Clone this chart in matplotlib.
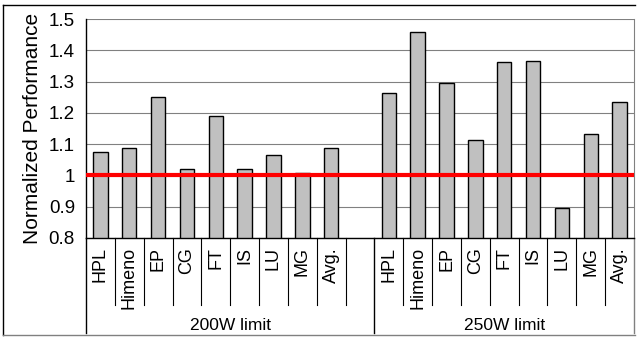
import numpy as np
import matplotlib.pyplot as plt
from matplotlib.lines import Line2D

plt.rcParams['font.family'] = ['Liberation Sans', 'DejaVu Sans']

labels = ["HPL", "Himeno", "EP", "CG", "FT", "IS", "LU", "MG", "Avg."]
perf_200w = [1.075, 1.087, 1.251, 1.019, 1.189, 1.019, 1.064, 1.008, 1.087]
perf_250w = [1.263, 1.457, 1.295, 1.114, 1.362, 1.366, 0.896, 1.133, 1.235]
groups = ["200W limit", "250W limit"]
yticks = [0.8, 0.9, 1.0, 1.1, 1.2, 1.3, 1.4, 1.5]
ytick_labels = ["0.8", "0.9", "1", "1.1", "1.2", "1.3", "1.4", "1.5"]

fig = plt.figure(figsize=(6.39, 3.37), dpi=100)
ax = fig.add_axes([86/639, 1 - 238/337, 548/639, 219/337])

n = len(labels)
x200 = np.arange(n)
x250 = np.arange(n) + n + 1
ax.bar(x200, np.array(perf_200w) - 0.8, bottom=0.8, width=0.5,
       color="#c0c0c0", edgecolor="black", linewidth=1, zorder=3)
ax.bar(x250, np.array(perf_250w) - 0.8, bottom=0.8, width=0.5,
       color="#c0c0c0", edgecolor="black", linewidth=1, zorder=3)

ax.axhline(1.0, color="#ff0000", linewidth=3, zorder=4)

ax.set_xlim(-0.5, 2 * n + 0.5)
ax.set_ylim(0.8, 1.5)
ax.set_yticks(yticks)
ax.set_yticklabels(ytick_labels, fontsize=13.5)
ax.tick_params(axis="y", length=0, pad=8)
ax.set_xticks([])
ax.yaxis.grid(True, color="#808080", linewidth=0.8)
ax.set_axisbelow(True)

ax.spines["top"].set_visible(False)
ax.spines["right"].set_color("#808080")
ax.spines["left"].set_linewidth(1)
ax.spines["bottom"].set_linewidth(1)

ax.set_ylabel("Normalized Performance", fontsize=15, labelpad=5)

trans = ax.get_xaxis_transform()
short_end = -(305 - 238) / 219
long_end = -(333 - 238) / 219
for k in range(2 * n + 2):
    xb = k - 0.5
    if k in (0, n + 1, 2 * n + 1):
        ax.plot([xb, xb], [0, long_end], transform=trans, color="black" if k != 2 * n + 1 else "#808080",
                linewidth=1, clip_on=False)
    else:
        ax.plot([xb, xb], [0, short_end], transform=trans, color="black",
                linewidth=0.8, clip_on=False)

for xs in (x200, x250):
    for xi, lab in zip(xs, labels):
        ax.text(xi, -9 / 219, lab, transform=trans, rotation=90,
                ha="center", va="top", fontsize=13)

ax.text((-0.5 + n + 0.5) / 2, -(325 - 238) / 219, groups[0], transform=trans,
        ha="center", va="center", fontsize=12.5)
ax.text((n + 0.5 + 2 * n + 0.5) / 2, -(325 - 238) / 219, groups[1], transform=trans,
        ha="center", va="center", fontsize=12.5)

# border around the figure
fig.add_artist(Line2D([3/639, 635/639], [1 - 5/337, 1 - 5/337], color="black", linewidth=1))
fig.add_artist(Line2D([3/639, 3/639], [1 - 5/337, 1 - 335/337], color="black", linewidth=1))
fig.add_artist(Line2D([3/639, 635/639], [1 - 335/337, 1 - 335/337], color="#808080", linewidth=1))

fig.savefig("out.png", dpi=100)
